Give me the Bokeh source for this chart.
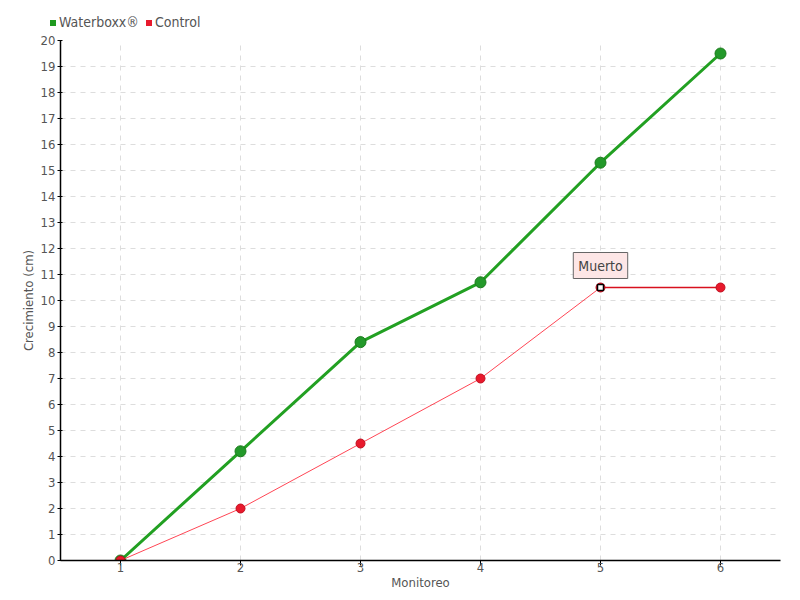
from bokeh.plotting import figure
from bokeh.models import Label, FixedTicker, Range1d, Div
from bokeh.layouts import column
from bokeh.embed import file_html
from bokeh.resources import INLINE

monitoreo = [1, 2, 3, 4, 5, 6]
waterboxx = [0, 4.2, 8.4, 10.7, 15.3, 19.5]
control = [0, 2, 4.5, 7, 10.5, 10.5]
y_ticks = list(range(0, 21))
x_ticks = [1, 2, 3, 4, 5, 6]
series_names = ["Waterboxx®", "Control"]
series_colors = ["#1f9a1f", "#e8192c"]

FONT = "DejaVu Sans Condensed, DejaVu Sans"
TXT = "#555555"

# legend strip (HTML)
parts = []
for i, (name, col) in enumerate(zip(series_names, series_colors)):
    ml = "0px" if i == 0 else "7px"
    parts.append(
        f'<span style="display:inline-block;width:6px;height:6px;background:{col};'
        f'margin-left:{ml};margin-right:3px;vertical-align:middle;position:relative;top:1px"></span>'
        f'<span style="vertical-align:middle">{name}</span>')
html = ('<div style="font-family:\'DejaVu Sans Condensed\',\'DejaVu Sans\',sans-serif;'
        'font-size:14px;color:#555555;padding-left:50px;padding-top:12px;line-height:18px;'
        'white-space:nowrap">' + "".join(parts) + '</div>')
lg = Div(text=html, width=800, height=30, margin=(0, 0, 0, 0))

p = figure(width=800, height=570, output_backend="svg", toolbar_location=None,
           x_range=Range1d(0.5, 6.5), y_range=Range1d(0, 20),
           min_border_left=60, min_border_right=20, min_border_top=10, min_border_bottom=40,
           margin=(0, 0, 0, 0))
p.outline_line_color = None

p.line(monitoreo, waterboxx, line_color="#22a022", line_width=3)
p.scatter(monitoreo, waterboxx, size=11, fill_color="#23992a", line_color="#1a7a1a", line_width=1)
p.line(monitoreo, control, line_color="#ff4655", line_width=1)
p.line(monitoreo[4:], control[4:], line_color="#d8101e", line_width=1.5)
p.scatter(monitoreo, control, size=9, fill_color="#e8192c", line_color="#c01020", line_width=1)
# highlighted point
p.scatter([monitoreo[4]], [control[4]], size=6, marker="square", fill_color="white",
          line_color="black", line_width=1.5)

lbl = Label(x=monitoreo[4], y=control[4], text="Muerto", x_offset=0, y_offset=9,
            text_align="center", text_baseline="bottom", text_font=FONT, text_font_size="14px",
            text_color="#444444", background_fill_color="#fde6e6", border_line_color="#666666",
            border_line_width=1, padding=5)
p.add_layout(lbl)

for ax in (p.xaxis[0], p.yaxis[0]):
    ax.major_label_text_font = FONT
    ax.major_label_text_font_size = "13px"
    ax.major_label_text_color = TXT
    ax.axis_label_text_font = FONT
    ax.axis_label_text_font_size = "13px"
    ax.axis_label_text_color = TXT
    ax.axis_label_text_font_style = "normal"
    ax.axis_line_color = "black"
    ax.axis_line_width = 1.5
    ax.major_tick_line_color = "black"
    ax.minor_tick_line_color = None

p.xaxis.major_tick_out = 5
p.xaxis.major_tick_in = 0
p.yaxis.major_tick_out = 3
p.yaxis.major_tick_in = 2
p.xaxis.ticker = FixedTicker(ticks=x_ticks)
p.yaxis.ticker = FixedTicker(ticks=y_ticks)
p.xaxis.axis_label = "Monitoreo"
p.yaxis.axis_label = "Crecimiento (cm)"
p.xaxis.major_label_standoff = -3
p.xaxis.axis_label_standoff = 0
p.yaxis.major_label_standoff = 2
p.yaxis.axis_label_standoff = 2

p.xgrid.grid_line_color = "#dddddd"
p.ygrid.grid_line_color = "#dddddd"
p.xgrid.grid_line_dash = "5 5"
p.ygrid.grid_line_dash = "5 5"

layout = column(lg, p, spacing=0)
open("out.html", "w").write(file_html(layout, INLINE))
